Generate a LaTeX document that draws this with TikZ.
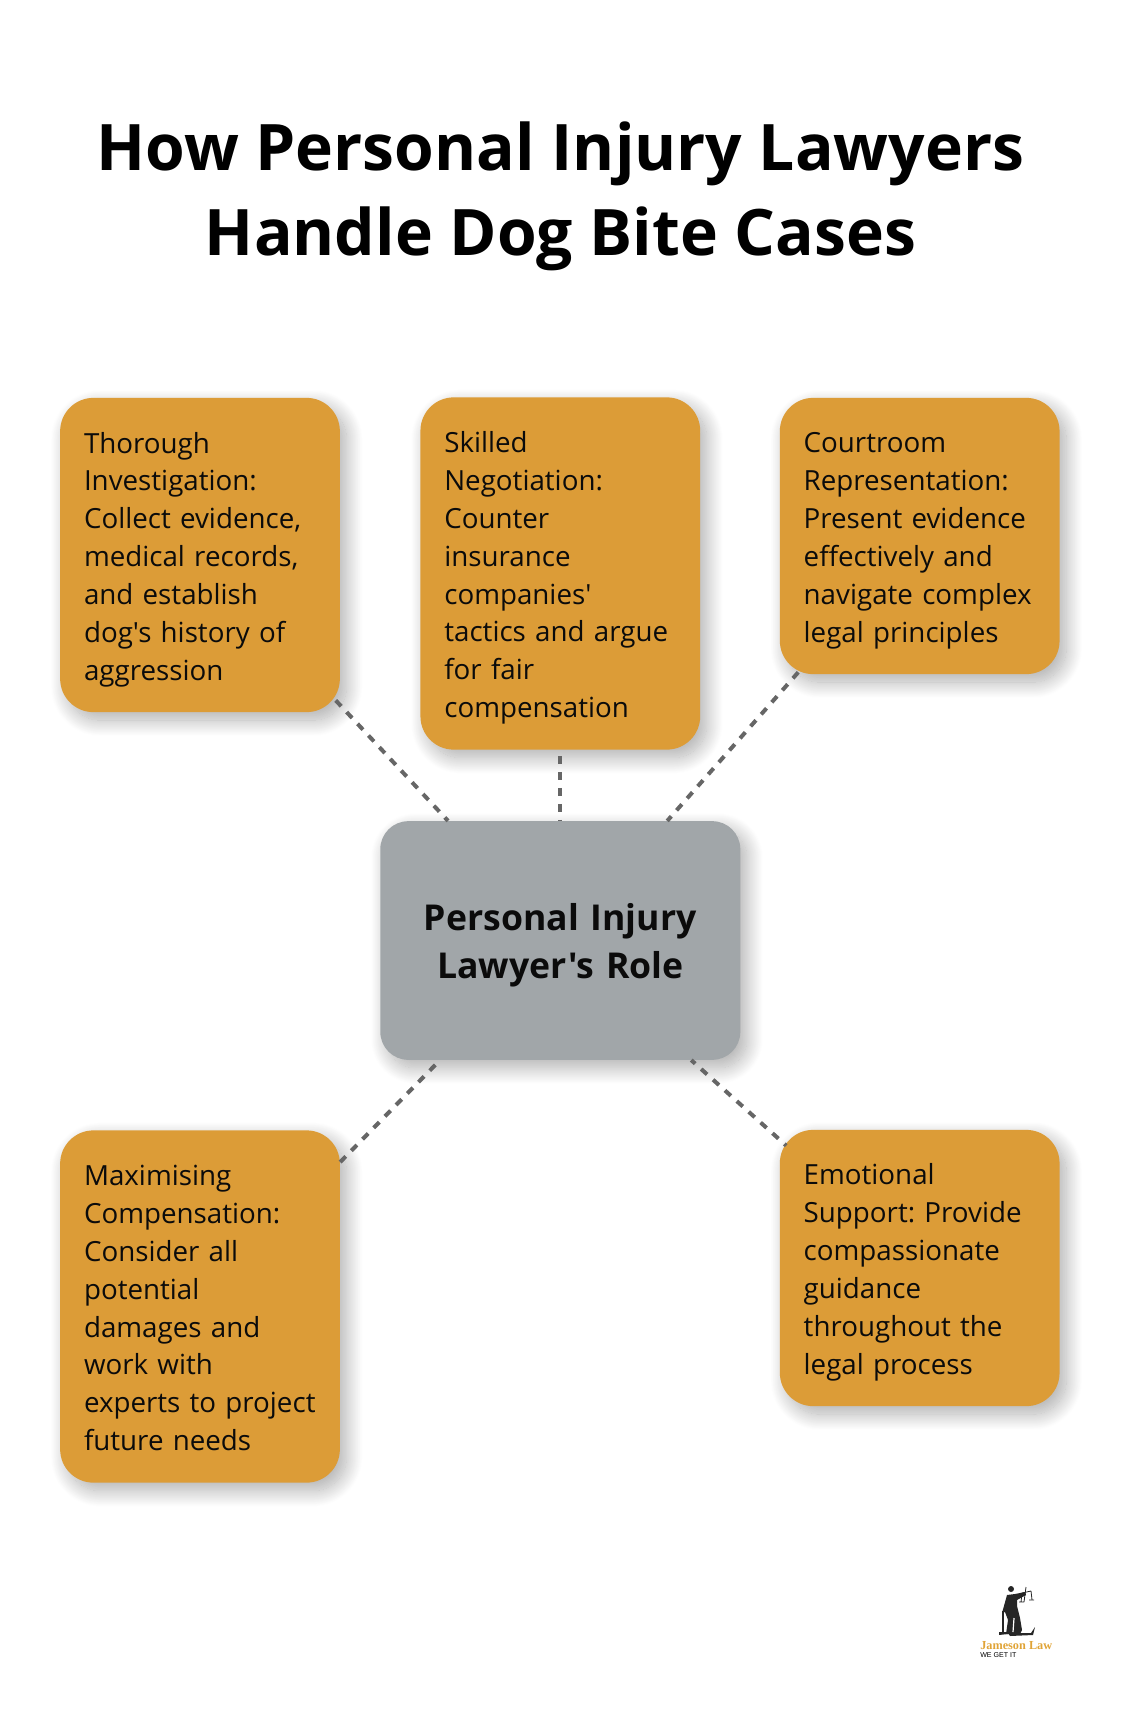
\documentclass[tikz,border=0pt]{standalone}
\usepackage{fontspec}
\setmainfont{Open Sans}[Ligatures=TeXOff]
\newfontfamily\logofont{Liberation Serif}[Ligatures=TeXOff]
\newfontfamily\tagfont{Liberation Sans}
\usetikzlibrary{shadows.blur}
\definecolor{boxorange}{HTML}{DC9C37}
\definecolor{rolegray}{HTML}{A1A6A9}
\definecolor{linkgray}{HTML}{666666}
\definecolor{logogold}{HTML}{E0A437}
\definecolor{inkblack}{HTML}{0B0B0B}
\begin{document}
\begin{tikzpicture}[x=0.75pt,y=-0.75pt]
\tikzstyle{softshadow}=[blur shadow={shadow xshift=5pt,shadow yshift=-6pt,shadow blur radius=12pt,shadow blur steps=24,shadow opacity=32}]
\tikzstyle{topic}=[fill=boxorange,rounded corners=25pt,minimum width=209.8pt,text width=174pt,inner sep=0pt,align=left,text=inkblack,font=\fontsize{20.8pt}{28.4pt}\selectfont\frenchspacing,softshadow,execute at begin node={\rule{0pt}{22.4pt}},execute at end node={\rule[-5pt]{0pt}{5pt}}]
\tikzstyle{role}=[fill=rolegray,rounded corners=21pt,minimum width=270pt,minimum height=179pt,text width=260pt,inner sep=0pt,align=center,text=inkblack,font=\fontsize{26.7pt}{36pt}\selectfont\bfseries,softshadow,execute at begin node={\rule{0pt}{27pt}}]
\tikzstyle{link}=[draw=linkgray,line width=3pt,dash pattern=on 6pt off 6pt]
\useasboundingbox (0,0) rectangle (1120,1722);
\node[font=\fontsize{48.1pt}{64pt}\selectfont\bfseries,align=center,text=black] (title) at (560.5,196.5) {How Personal Injury Lawyers\\Handle Dog Bite Cases};
\node[topic,minimum height=235.7pt] (thorough) at (200,555) {Thorough\\Investigation:\\Collect evidence,\\medical records,\\and establish\\dog's history of\\aggression};
\node[topic,minimum height=264.2pt] (skilled) at (560.3,573.5) {Skilled\\Negotiation:\\Counter\\insurance\\companies'\\tactics and argue\\for fair\\compensation};
\node[topic,minimum height=207.2pt] (courtroom) at (919.7,536) {Courtroom\\Representation:\\Present evidence\\effectively and\\navigate complex\\legal principles};
\node[role] (lawyer) at (560.3,940.5) {Personal Injury\\Lawyer's Role};
\node[topic,minimum height=264.2pt] (maximising) at (200,1306.5) {Maximising\\Compensation:\\Consider all\\potential\\damages and\\work with\\experts to project\\future needs};
\node[topic,minimum height=207.2pt] (emotional) at (919.7,1268) {Emotional\\Support: Provide\\compassionate\\guidance\\throughout the\\legal process};
\draw[link] ([xshift=-3.3pt,yshift=9pt]thorough.south east) -- ([xshift=51pt]lawyer.north west);
\draw[link] ([yshift=-4.5pt]skilled.south) -- (lawyer.north);
\draw[link] ([xshift=14pt,yshift=1.6pt]courtroom.south west) -- ([xshift=-55pt]lawyer.north east);
\draw[link] ([yshift=-24pt]maximising.north east) -- ([xshift=45pt]lawyer.south west);
\draw[link,dash phase=2pt] ([xshift=-37pt]lawyer.south east) -- ([xshift=5pt,yshift=-12pt]emotional.north west);
% logo
\node[inner sep=0pt,anchor=base west,text=logogold,font=\logofont\fontsize{9.2pt}{10pt}\selectfont\bfseries] (logoname) at (980,1649) {Jameson Law};
\node[inner sep=0pt,anchor=base west,text=black,font=\tagfont\fontsize{5.3pt}{6pt}\selectfont] (logotag) at (980,1657) {WE GET IT};
\fill[black!85] (1011,1589) circle (3);
\fill[black!85] (1007,1595) -- (1015,1594) -- (1025,1592) -- (1026,1595) -- (1017,1600) -- (1017,1606) -- (1020,1618) -- (1022,1630) -- (1020,1634) -- (1006,1634) -- (1008,1620) -- (1005,1612) -- (1002,1613) -- cycle;
\fill[black!85] (999,1632) -- (1008,1632) -- (1008,1634) -- (999,1635) -- cycle;
\fill[black!85] (1008,1633) -- (1031,1633) -- (1035,1627) -- (1033,1635) -- (1010,1636) -- cycle;
\draw[black!85,line width=0.8pt] (1003,1611) -- (1003,1633);
\draw[white,line width=0.9pt] (1014,1618) -- (1013,1632);
\draw[black!85,line width=0.6pt] (1026,1587) -- (1024,1602) (1022,1593) -- (1031,1591) (1022,1593) -- (1021,1602) (1031,1591) -- (1032,1600) (1019,1602) -- (1024,1602) (1029,1600) -- (1034,1600);
\end{tikzpicture}
\end{document}
